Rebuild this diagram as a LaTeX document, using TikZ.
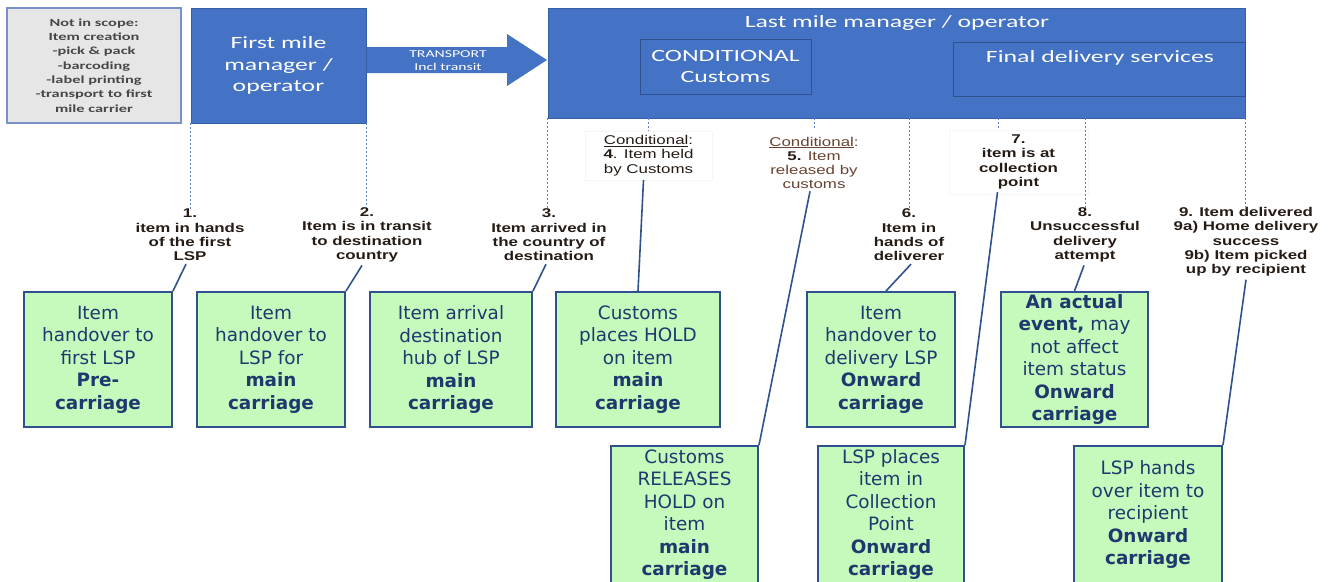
\documentclass[tikz,border=0pt]{standalone}
\usepackage{fontspec}
\usepackage{tikz}
\usetikzlibrary{calc}
\newfontfamily\calfont[FakeStretch=1.5]{Carlito}
\newfontfamily\arialfont[FakeStretch=1.33]{Liberation Sans}
\newfontfamily\verdfont{DejaVu Sans}
\definecolor{lspblue}{RGB}{68,114,196}
\definecolor{lspdark}{RGB}{47,82,143}
\definecolor{lspgreen}{RGB}{198,250,188}
\definecolor{lsptext}{RGB}{31,56,110}
\definecolor{lspgray}{RGB}{231,230,230}
\definecolor{lspframe}{RGB}{120,146,200}
\definecolor{lbltext}{RGB}{38,28,22}
\definecolor{lblbrown}{RGB}{105,68,50}
\definecolor{dotblue}{RGB}{90,130,205}

\begin{document}
\begin{tikzpicture}[x=1pt,y=-1pt,
  stepgreen/.style={draw=lspdark,line width=2pt,fill=lspgreen,text=lsptext,align=center,inner sep=0pt,
    minimum height=135pt,font=\verdfont\fontsize{18.4}{22.5}\selectfont},
  bluebox/.style={draw=lspdark!60!lspblue,fill=lspblue,text=white,align=center,inner sep=0pt,line width=0.6pt},
  inbox/.style={draw=lspdark,line width=0.8pt,align=center,inner sep=0pt},
  topfont/.style={font=\calfont\fontsize{17.2}{21.5}\selectfont},
  evt/.style={align=center,inner sep=0pt,text=lbltext,font=\arialfont\bfseries\fontsize{12.7}{14.3}\selectfont},
  evtlight/.style={evt,font=\arialfont\fontsize{12.7}{14.3}\selectfont},
  dotline/.style={dotblue,line width=1pt,dash pattern=on 1.5pt off 2.5pt},
  conn/.style={lspdark,line width=1.6pt}]
  \clip (0,0) rectangle (1333,581);
  \fill[white] (0,0) rectangle (1333,581);

  \node[draw=lspframe,line width=1.2pt,fill=lspgray,text=black!72,align=center,inner sep=0pt,
    minimum width=174pt,minimum height=115pt,font=\calfont\bfseries\fontsize{10.9}{14.3}\selectfont]
    (scope) at (94,65.5) {Not in scope:\\Item creation\\-pick \& pack\\-barcoding\\-label printing\\-transport to first\\mile carrier};
  \node[bluebox,topfont,minimum width=175pt,minimum height=115pt] (fm) at (278.5,65.5) {First mile\\manager /\\operator};
  \fill[lspblue] (367,47) -- (507,47) -- (507,34) -- (547,60) -- (507,86) -- (507,73) -- (367,73) -- cycle;
  \node[text=white,align=center,inner sep=0pt,font=\calfont\fontsize{10.5}{13}\selectfont] (tr) at (448,60.5) {TRANSPORT\\Incl transit};

  \node[bluebox,minimum width=697pt,minimum height=110pt] (lm) at (896.5,63) {};
  \node[topfont,text=white,inner sep=0pt] (lmt) at (897,23) {Last mile manager / operator};
  \node[inbox,topfont,text=white,minimum width=171pt,minimum height=55pt] (cust) at (725.5,66.5) {CONDITIONAL\\Customs};
  \node[inbox,minimum width=292pt,minimum height=54pt] (fds) at (1099,69) {};
  \node[topfont,text=white,inner sep=0pt] (fdst) at (1100,58) {Final delivery services};

  \node[evt] (e1) at (190,235) {1.\\item in hands\\of the first\\LSP};
  \node[evt] (e2) at (367,235) {2.\\Item is in transit\\to destination\\country};
  \node[evt] (e3) at (549,235) {3.\\Item arrived in\\the country of\\destination};
  \node[evtlight,fill=white,draw=black!4,minimum width=127pt,minimum height=49pt] (e4) at (648.5,155.5)
    {\underline{Conditional}:\\\textbf{4}. Item held\\by Customs};
  \node[evtlight,text=lblbrown] (e5) at (814,163) {\underline{Conditional}:\\\textbf{\color{lbltext}5.} Item\\released by\\customs};
  \node[evt] (e6) at (909,235) {6.\\Item in\\hands of\\deliverer};
  \node[evt,fill=white,draw=black!4,minimum width=139pt,minimum height=64pt] (e7) at (1018.5,162) {7.\\item is at\\collection\\point};
  \node[evt] (e8) at (1085,235) {8.\\Unsuccessful\\delivery\\attempt};
  \node[evt] (e9) at (1246,242) {9. Item delivered\\9a) Home delivery\\success\\9b) Item picked\\up by recipient};

  \node[stepgreen,minimum width=148pt] (gA) at (98,359.5) {Item\\handover to\\first LSP\\\textbf{Pre-}\\\textbf{carriage}};
  \node[stepgreen,minimum width=148pt] (gB) at (271,359.5) {Item\\handover to\\LSP for\\\textbf{main}\\\textbf{carriage}};
  \node[stepgreen,minimum width=162pt] (gC) at (451,359.5) {Item arrival\\destination\\hub of LSP\\\textbf{main}\\\textbf{carriage}};
  \node[stepgreen,minimum width=164pt] (gD) at (638,359.5) {Customs\\places HOLD\\on item\\\textbf{main}\\\textbf{carriage}};
  \node[stepgreen,minimum width=148pt] (gF) at (881,359.5) {Item\\handover to\\delivery LSP\\\textbf{Onward}\\\textbf{carriage}};
  \node[stepgreen,minimum width=147pt] (gH) at (1074.5,359.5) {\textbf{An actual}\\\textbf{event,} may\\not affect\\item status\\\textbf{Onward}\\\textbf{carriage}};
  \node[stepgreen,minimum width=147pt,minimum height=137pt] (gE) at (684.5,514.5) {Customs\\RELEASES\\HOLD on\\item\\\textbf{main}\\\textbf{carriage}};
  \node[stepgreen,minimum width=146pt,minimum height=137pt] (gG) at (891,514.5) {LSP places\\item in\\Collection\\Point\\\textbf{Onward}\\\textbf{carriage}};
  \node[stepgreen,minimum width=148pt,minimum height=137pt] (gI) at (1148,514.5) {LSP hands\\over item to\\recipient\\\textbf{Onward}\\\textbf{carriage}};

  \coordinate (d7) at (998,118);
  \draw[dotline] (fm.south west) -- (fm.south west |- e1.north);
  \draw[dotline] (fm.south east) -- (fm.south east |- e2.north);
  \draw[dotline] (lm.south west) -- (lm.south west |- e3.north);
  \draw[dotline] (e4.north |- lm.south) -- (e4.north);
  \draw[dotline] (e5.north |- lm.south) -- ([shift={(0,-8)}]e5.north);
  \draw[dotline] (e6.north |- lm.south) -- (e6.north);
  \draw[dotline] (d7) -- (d7 |- e7.north);
  \draw[dotline] (e8.north |- lm.south) -- (e8.north);
  \draw[dotline] (lm.south east) -- (lm.south east |- e9.north);

  \draw[conn] ([shift={(-4,3)}]e1.south) -- (gA.north east);
  \draw[conn] ([shift={(-5,3)}]e2.south) -- (gB.north east);
  \draw[conn] ([shift={(-3,3)}]e3.south) -- (gC.north east);
  \draw[conn] ([shift={(-5,0)}]e4.south) -- (gD.north);
  \draw[conn] ([shift={(-4,2)}]e5.south) -- (gE.north east);
  \draw[conn] ([shift={(2,3)}]e6.south) -- ([shift={(5,0)}]gF.north);
  \draw[conn] ([shift={(-21,-2)}]e7.south) -- (gG.north east);
  \draw[conn] ([shift={(-1,3)}]e8.south) -- (gH.north);
  \draw[conn] ([shift={(0,3)}]e9.south) -- (gI.north east);
\end{tikzpicture}
\end{document}
